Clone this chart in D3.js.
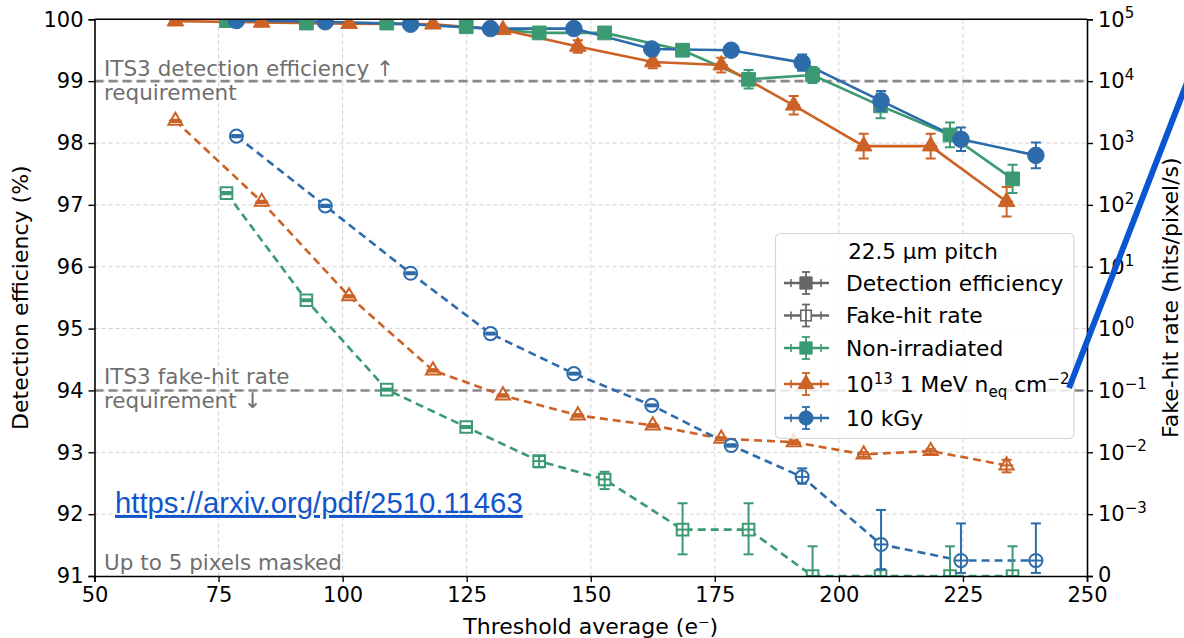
<!DOCTYPE html>
<html>
<head>
<meta charset="utf-8">
<script src="https://cdn.jsdelivr.net/npm/d3@7"></script>
<style>
  body { margin: 0; background: #fff; }
  svg { display: block; }
</style>
</head>
<body>
<script>
// ---------------- DATA ----------------
const xTicks = [50, 75, 100, 125, 150, 175, 200, 225, 250];
const yTicks = [91, 92, 93, 94, 95, 96, 97, 98, 99, 100];
const rightTickLabels = ["0", "-3", "-2", "-1", "0", "1", "2", "3", "4", "5"]; // "0" first = literal zero, rest exponents

// Non-irradiated
const thrGreen = [76.6, 92.7, 108.9, 124.9, 139.6, 152.8, 168.5, 181.8, 194.7, 208.4, 222.4, 235.0];
const effGreen = [99.98, 99.94, 99.94, 99.88, 99.78, 99.78, 99.50, 99.03, 99.10, 98.60, 98.13, 97.42];
const effErrGreen = [0.02, 0.02, 0.02, 0.03, 0.04, 0.04, 0.05, 0.15, 0.13, 0.20, 0.20, 0.23];
const fhrGreen = [155, 2.87, 0.103, 0.0256, 0.0072, 0.00364, 0.00075, 0.00075, 0, 0, 0, 0];
const fhrErrLoGreen = [6, 0.1, 0.004, 0.001, 0.0015, 0.0011, 0.0004, 0.0004, 0, 0, 0, 0];
const fhrErrHiGreen = [6, 0.1, 0.004, 0.001, 0.0015, 0.0012, 0.00075, 0.00075, 0.00048, 0.00048, 0.00048, 0.00048];

// 1e13 1 MeV neq/cm2
const thrOrange = [66.3, 83.7, 101.3, 118.2, 132.3, 147.4, 162.5, 176.3, 190.9, 205.0, 218.5, 233.8];
const effOrange = [99.97, 99.95, 99.93, 99.92, 99.83, 99.56, 99.31, 99.26, 98.61, 97.95, 97.95, 97.05];
const effErrOrange = [0.02, 0.02, 0.02, 0.03, 0.04, 0.10, 0.10, 0.12, 0.15, 0.20, 0.20, 0.24];
const fhrOrange = [2286, 112, 3.33, 0.211, 0.083, 0.0395, 0.0272, 0.0166, 0.0146, 0.00925, 0.0105, 0.00614];
const fhrErrOrange = [100, 5, 0.15, 0.01, 0.004, 0.002, 0.0015, 0.001, 0.001, 0.0008, 0.0009, 0.0014];

// 10 kGy
const thrBlue = [78.6, 96.5, 113.7, 129.8, 146.6, 162.3, 178.3, 192.6, 208.5, 224.6, 239.7];
const effBlue = [99.98, 99.96, 99.92, 99.85, 99.85, 99.52, 99.50, 99.30, 98.68, 98.06, 97.80];
const effErrBlue = [0.02, 0.02, 0.02, 0.03, 0.03, 0.05, 0.05, 0.13, 0.16, 0.19, 0.21];
const fhrBlue = [1294, 96.4, 7.85, 0.83, 0.187, 0.0574, 0.0129, 0.0040, 0.00051, 0.00025, 0.00025];
const fhrErrLoBlue = [50, 4, 0.3, 0.03, 0.007, 0.002, 0.0006, 0.0009, 0.0004, 0.0002, 0.0002];
const fhrErrHiBlue = [50, 4, 0.3, 0.03, 0.007, 0.002, 0.0006, 0.0015, 0.00066, 0.0006, 0.0006];

const thrErr = 1.3; // horizontal (threshold) uncertainty
const effRequirement = 99;
const fhrRequirement = 0.1;
const legendTitle = "22.5 µm pitch";
const legendLabels = ["Detection efficiency", "Fake-hit rate", "Non-irradiated", "NEQ", "10 kGy"];

// ---------------- STYLE ----------------
const C = { green: "#3c9a72", orange: "#cc6226", blue: "#2c6cab", gray: "#676767" };
const FONT = "DejaVu Sans, sans-serif";

const W = 1184, H = 638;
const svg = d3.select("body").append("svg").attr("width", W).attr("height", H)
  .style("font-family", FONT);

const x = d3.scaleLinear().domain([50, 250]).range([94.5, 1087]);
const y = d3.scaleLinear().domain([91, 100]).range([576, 19.3]);
// symlog-like transform for the fake-hit rate (linear below 1e-3)
const linthresh = 1e-3;
function fhT(v) { return v < linthresh ? 91 + v / linthresh : 92 + Math.log10(v / linthresh); }
const yF = v => y(fhT(v));

const defs = svg.append("defs");
defs.append("clipPath").attr("id", "plotclip").append("rect")
  .attr("x", x(50)).attr("y", y(100)).attr("width", x(250) - x(50)).attr("height", y(91) - y(100));

// grid
const grid = svg.append("g").attr("stroke", "#d2d2d2").attr("stroke-width", 1).attr("stroke-dasharray", "4,3");
grid.selectAll("line.v").data(xTicks.slice(1, -1)).join("line")
  .attr("x1", d => x(d)).attr("x2", d => x(d)).attr("y1", y(100)).attr("y2", y(91));
grid.selectAll("line.h").data(yTicks.slice(1, -1)).join("line")
  .attr("x1", x(50)).attr("x2", x(250)).attr("y1", d => y(d)).attr("y2", d => y(d));

// requirement lines
svg.append("line").attr("x1", x(50)).attr("x2", x(250)).attr("y1", y(effRequirement)).attr("y2", y(effRequirement))
  .attr("stroke", "#888").attr("stroke-width", 2.6).attr("stroke-dasharray", "9,5");
svg.append("line").attr("x1", x(50)).attr("x2", x(250)).attr("y1", yF(fhrRequirement)).attr("y2", yF(fhrRequirement))
  .attr("stroke", "#888").attr("stroke-width", 2.6).attr("stroke-dasharray", "9,5");

// annotations
const ann = svg.append("g").attr("fill", "#6f6f6f").style("font-size", "21.5px");
ann.append("text").attr("x", 104).attr("y", 76).text("ITS3 detection efficiency ↑");
ann.append("text").attr("x", 104).attr("y", 100).text("requirement");
ann.append("text").attr("x", 104).attr("y", 384).text("ITS3 fake-hit rate");
ann.append("text").attr("x", 104).attr("y", 408).text("requirement ↓");
ann.append("text").attr("x", 104).attr("y", 570).text("Up to 5 pixels masked");

// series
const series = [
  { color: C.green, sym: d3.symbolSquare, thr: thrGreen, eff: effGreen, effErr: effErrGreen, fhr: fhrGreen, lo: fhrErrLoGreen, hi: fhrErrHiGreen, sE: 190, sF: 135 },
  { color: C.orange, sym: d3.symbolTriangle, thr: thrOrange, eff: effOrange, effErr: effErrOrange, fhr: fhrOrange, lo: fhrErrOrange, hi: fhrErrOrange, sE: 120, sF: 85 },
  { color: C.blue, sym: d3.symbolCircle, thr: thrBlue, eff: effBlue, effErr: effErrBlue, fhr: fhrBlue, lo: fhrErrLoBlue, hi: fhrErrHiBlue, sE: 215, sF: 135 }
];

const plot = svg.append("g").attr("clip-path", "url(#plotclip)");
const lineGen = d3.line();

series.forEach(s => {
  const effPts = s.thr.map((t, i) => [x(t), y(s.eff[i])]);
  const fhrPts = s.thr.map((t, i) => [x(t), yF(s.fhr[i])]);
  plot.append("path").attr("d", lineGen(effPts)).attr("fill", "none").attr("stroke", s.color).attr("stroke-width", 2.6);
  plot.append("path").attr("d", lineGen(fhrPts)).attr("fill", "none").attr("stroke", s.color).attr("stroke-width", 2.6)
    .attr("stroke-dasharray", "8,5");
});

function errBar(g, cx, yTop, yBot, xl, xr, cy, color) {
  g.append("line").attr("x1", cx).attr("x2", cx).attr("y1", yTop).attr("y2", yBot).attr("stroke", color).attr("stroke-width", 2);
  g.append("line").attr("x1", cx - 5).attr("x2", cx + 5).attr("y1", yTop).attr("y2", yTop).attr("stroke", color).attr("stroke-width", 2);
  g.append("line").attr("x1", cx - 5).attr("x2", cx + 5).attr("y1", yBot).attr("y2", yBot).attr("stroke", color).attr("stroke-width", 2);
  g.append("line").attr("x1", xl).attr("x2", xr).attr("y1", cy).attr("y2", cy).attr("stroke", color).attr("stroke-width", 2);
}

series.forEach(s => {
  // detection efficiency markers (filled)
  plot.selectAll(null).data(s.thr.map((t, i) => i)).join("path")
    .attr("d", d3.symbol().type(s.sym).size(s.sE))
    .attr("transform", i => `translate(${x(s.thr[i])},${y(s.eff[i])})`)
    .attr("fill", s.color).attr("stroke", s.color).attr("stroke-width", 1);
  // fake-hit markers (hollow)
  plot.selectAll(null).data(s.thr.map((t, i) => i)).join("path")
    .attr("d", d3.symbol().type(s.sym).size(s.sF))
    .attr("transform", i => `translate(${x(s.thr[i])},${yF(s.fhr[i])})`)
    .attr("fill", "#fff").attr("stroke", s.color).attr("stroke-width", 2);
  const eb = plot.append("g");
  s.thr.forEach((t, i) => {
    errBar(eb, x(t), y(s.eff[i] + s.effErr[i]), y(s.eff[i] - s.effErr[i]), x(t - thrErr), x(t + thrErr), y(s.eff[i]), s.color);
    errBar(eb, x(t), yF(s.fhr[i] + s.hi[i]), yF(Math.max(0, s.fhr[i] - s.lo[i])), x(t - thrErr), x(t + thrErr), yF(s.fhr[i]), s.color);
  });
});

// axes
const axStyle = g => {
  g.selectAll("path.domain").attr("stroke", "#000").attr("stroke-width", 1.6);
  g.selectAll(".tick line").attr("stroke", "#000").attr("stroke-width", 1.4);
  g.selectAll(".tick text").attr("fill", "#000").style("font-size", "21px").style("font-family", FONT);
};
svg.append("g").attr("transform", `translate(0,${y(91)})`)
  .call(d3.axisBottom(x).tickValues(xTicks).tickSizeOuter(0).tickSize(6).tickPadding(5))
  .call(axStyle);
svg.append("g").attr("transform", `translate(${x(50)},0)`)
  .call(d3.axisLeft(y).tickValues(yTicks).tickSizeOuter(0).tickSize(6).tickPadding(5))
  .call(axStyle);
const rAx = svg.append("g").attr("transform", `translate(${x(250)},0)`)
  .call(d3.axisRight(y).tickValues(yTicks).tickSizeOuter(0).tickSize(6).tickPadding(5))
  .call(axStyle);
rAx.selectAll(".tick text").each(function (d, i) {
  const el = d3.select(this);
  el.text(null);
  if (i === 0) { el.text(rightTickLabels[0]).attr("dy", "0.25em"); return; }
  el.append("tspan").text("10");
  el.append("tspan").attr("dy", "-0.55em").style("font-size", "15px").text(rightTickLabels[i].replace("-", "−"));
});
// top spine
svg.append("line").attr("x1", x(50)).attr("x2", x(250)).attr("y1", y(100)).attr("y2", y(100))
  .attr("stroke", "#000").attr("stroke-width", 1.6);

// axis labels
svg.append("text").attr("x", x(150)).attr("y", 634).attr("text-anchor", "middle").style("font-size", "22px")
  .text("Threshold average (e⁻)");
svg.append("text").attr("transform", `translate(28,${(y(91) + y(100)) / 2}) rotate(-90)`).attr("text-anchor", "middle")
  .style("font-size", "22px").text("Detection efficiency (%)");
svg.append("text").attr("transform", `translate(1178,${(y(91) + y(100)) / 2}) rotate(-90)`).attr("text-anchor", "middle")
  .style("font-size", "22px").text("Fake-hit rate (hits/pixel/s)");

// legend
const lg = svg.append("g");
lg.append("rect").attr("x", 775.5).attr("y", 233.5).attr("width", 298.5).attr("height", 205).attr("rx", 5)
  .attr("fill", "#fff").attr("fill-opacity", 0.82).attr("stroke", "#d6d6d6").attr("stroke-width", 1.2);
lg.append("text").attr("x", 923).attr("y", 259).attr("text-anchor", "middle").style("font-size", "21.5px").text(legendTitle);
const rowY = [283, 315.5, 348, 384, 418];
const legendItems = [
  { color: C.gray, sym: d3.symbolSquare, filled: true, size: 150 },
  { color: C.gray, sym: d3.symbolSquare, filled: false, size: 110 },
  { color: C.green, sym: d3.symbolSquare, filled: true, size: 150 },
  { color: C.orange, sym: d3.symbolTriangle, filled: true, size: 110 },
  { color: C.blue, sym: d3.symbolCircle, filled: true, size: 160 }
];
legendItems.forEach((it, i) => {
  const cy = rowY[i], cx = 806;
  const g = lg.append("g");
  g.append("line").attr("x1", 784).attr("x2", 829).attr("y1", cy).attr("y2", cy).attr("stroke", it.color).attr("stroke-width", 2.4);
  [791, 821].forEach(px => g.append("line").attr("x1", px).attr("x2", px).attr("y1", cy - 4).attr("y2", cy + 4)
    .attr("stroke", it.color).attr("stroke-width", 1.6));
  g.append("path").attr("d", d3.symbol().type(it.sym).size(it.size)).attr("transform", `translate(${cx},${cy})`)
    .attr("fill", it.filled ? it.color : "#fff").attr("stroke", it.color).attr("stroke-width", it.filled ? 1 : 1.6);
  g.append("line").attr("x1", cx).attr("x2", cx).attr("y1", cy - 11).attr("y2", cy + 11).attr("stroke", it.color).attr("stroke-width", 1.8);
  [cy - 11, cy + 11].forEach(py => g.append("line").attr("x1", cx - 4).attr("x2", cx + 4).attr("y1", py).attr("y2", py)
    .attr("stroke", it.color).attr("stroke-width", 1.8));
  const t = lg.append("text").attr("x", 846).attr("y", cy + 7.5).style("font-size", "21.8px");
  if (legendLabels[i] === "NEQ") {
    t.append("tspan").text("10");
    t.append("tspan").attr("dy", -8).style("font-size", "15px").text("13");
    t.append("tspan").attr("dy", 8).text(" 1 MeV n");
    t.append("tspan").attr("dy", 5).style("font-size", "15px").text("eq");
    t.append("tspan").attr("dy", -5).text(" cm");
    t.append("tspan").attr("dy", -8).style("font-size", "15px").text("−2");
  } else {
    t.text(legendLabels[i]);
  }
});

// link overlay
svg.append("text").attr("x", 115).attr("y", 513).style("font-family", "Liberation Sans, Arial, sans-serif")
  .style("font-size", "29.3px").attr("fill", "#1155cc").style("text-decoration", "underline")
  .text("https://arxiv.org/pdf/2510.11463");

// hand-drawn blue stroke overlay
svg.append("line").attr("x1", 1069).attr("y1", 388).attr("x2", 1188).attr("y2", 80)
  .attr("stroke", "#0a55d2").attr("stroke-width", 6);
</script>
</body>
</html>
